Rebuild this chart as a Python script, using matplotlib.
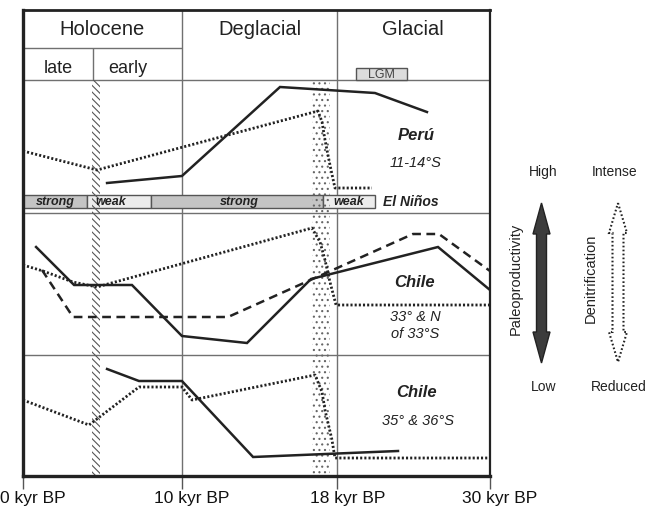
import matplotlib
matplotlib.use('Agg')
import matplotlib.pyplot as plt
import matplotlib.patches as mpatches
import matplotlib.transforms as mtransforms

plt.rcParams['font.family'] = ['Liberation Sans', 'DejaVu Sans']
plt.rcParams['hatch.linewidth'] = 0.8

# schematic time axis: each section has the same width
bounds = [0, 10.2, 20.2, 30]
tick_labels = ['0 kyr BP', '10 kyr BP', '18 kyr BP', '30 kyr BP']
periods = ['Holocene', 'Deglacial', 'Glacial']
period_x = [5.08, 15.19, 25.05]
sub_periods = ['late', 'early']
sub_x = [2.28, 6.74]

# El Nino activity bar
nino_x0 = [0, 4.11, 8.22, 19.27]
nino_x1 = [4.11, 8.22, 19.27, 22.6]
nino_kind = ['strong', 'weak', 'strong', 'weak']
nino_text_x = [2.05, 5.65, 13.9, 20.9]

# Peru 11-14S
peru_solid_x = [5.40, 10.21, 16.51, 22.61, 25.95]
peru_solid_y = [293, 300, 389, 383, 364]
peru_dot_x = [0, 4.75, 18.95, 19.21, 19.40, 19.72, 20.04, 22.42]
peru_dot_y = [325, 306, 365, 354, 336, 311, 288, 288]

# Chile 33S and north of 33S
chn_solid_x = [0.84, 3.28, 7.00, 10.21, 14.39, 18.50, 26.66, 30.0]
chn_solid_y = [229, 191, 191, 140, 133, 197, 229, 186]
chn_dash_x = [1.22, 3.21, 13.17, 25.05, 26.72, 30.0]
chn_dash_y = [206, 159, 159, 242, 242, 205]
chn_dot_x = [0, 1.28, 3.21, 4.75, 18.56, 19.08, 19.40, 19.72, 20.11, 30]
chn_dot_y = [211, 205, 194, 189, 248, 234, 216, 194, 171, 171]

# Chile 35 & 36S
chs_solid_x = [5.40, 7.45, 10.21, 14.78, 24.09]
chs_solid_y = [107, 95, 95, 19, 25]
chs_dot_x = [0, 4.24, 7.45, 10.21, 10.86, 18.76, 19.21, 19.40, 19.85, 20.04, 30]
chs_dot_y = [76, 51, 89, 89, 76, 101, 84, 66, 36, 18, 18]

dark = '#222222'
grid = '#707070'

fig = plt.figure(figsize=(6.51, 5.13), dpi=100)
ax = fig.add_axes([23 / 651, 37 / 513, 467 / 651, 466 / 513])
ax.set_xlim(0, 30)
ax.set_ylim(0, 466)
for side, w in [('left', 2.4), ('bottom', 2.4), ('top', 2.0), ('right', 1.6)]:
    ax.spines[side].set_linewidth(w)
    ax.spines[side].set_color(dark)
    ax.spines[side].set_zorder(6)

ax.set_yticks([])
ax.set_xticks(bounds)
ax.set_xticklabels(tick_labels, fontsize=12.5, color='#111111')
ax.tick_params(axis='x', length=9, width=1, color='#555555', pad=2)
shift = mtransforms.ScaledTranslation(10 / 100, 0, fig.dpi_scale_trans)
for lbl in ax.get_xticklabels():
    lbl.set_transform(lbl.get_transform() + shift)

# frame lines
ax.vlines(bounds[1:3], 0, 466, color=grid, lw=1, zorder=1)
ax.hlines([396, 263, 121], 0, 30, color=grid, lw=1, zorder=1)
ax.hlines(428, 0, bounds[1], color=grid, lw=1, zorder=1)
ax.vlines(4.5, 396, 428, color=grid, lw=1, zorder=1)

# headers
for name, x in zip(periods, period_x):
    ax.text(x, 441, name, ha='center', va='baseline', fontsize=14.5, color=dark)
for name, x in zip(sub_periods, sub_x):
    ax.text(x, 403, name, ha='center', va='baseline', fontsize=13, color=dark)
ax.add_patch(mpatches.Rectangle((21.37, 396), 3.3, 12, facecolor='#dcdcdc',
                                edgecolor='#555555', lw=1, zorder=2))
ax.text(23.0, 401.5, 'LGM', ha='center', va='center', fontsize=9, color='#444444')

# El Nino bar
for x0, x1, kind, tx in zip(nino_x0, nino_x1, nino_kind, nino_text_x):
    fc = '#c4c4c4' if kind == 'strong' else '#ececec'
    ax.add_patch(mpatches.Rectangle((x0, 268), x1 - x0, 13, facecolor=fc,
                                    edgecolor='#555555', lw=1, zorder=2))
    ax.text(tx, 274.5, kind, ha='center', va='center', fontsize=9,
            fontweight='bold', style='italic', color=dark, zorder=4)
ax.text(23.1, 274.5, 'El Niños', ha='left', va='center', fontsize=10,
        fontweight='bold', style='italic', color=dark)

# boundary bands
ax.add_patch(mpatches.Rectangle((4.43, 0), 0.52, 396, fill=False, lw=0,
                                hatch='\\\\\\\\\\', edgecolor='#555555', zorder=2.5))
ax.add_patch(mpatches.Rectangle((18.56, 0), 1.16, 396, fill=False, lw=0,
                                hatch='...', edgecolor='#666666', zorder=2.5))

# records
solid = dict(color=dark, lw=1.8, zorder=3, solid_joinstyle='miter')
dotted = dict(color='#222222', lw=2.0, dashes=(0.75, 0.75), zorder=3)
dashed = dict(color=dark, lw=1.8, dashes=(3.5, 2.2), zorder=3)

ax.plot(peru_solid_x, peru_solid_y, **solid)
ax.plot(peru_dot_x, peru_dot_y, **dotted)
ax.plot(chn_solid_x, chn_solid_y, **solid)
ax.plot(chn_dash_x, chn_dash_y, **dashed)
ax.plot(chn_dot_x, chn_dot_y, **dotted)
ax.plot(chs_solid_x, chs_solid_y, **solid)
ax.plot(chs_dot_x, chs_dot_y, **dotted)

# site labels
ax.text(25.25, 336, 'Perú', ha='center', va='baseline', fontsize=12,
        fontweight='bold', style='italic', color=dark)
ax.text(25.25, 309, '11-14°S', ha='center', va='baseline', fontsize=10.5,
        style='italic', color=dark)
ax.text(25.18, 189, 'Chile', ha='center', va='baseline', fontsize=12,
        fontweight='bold', style='italic', color=dark)
ax.text(25.18, 155, '33° & N', ha='center', va='baseline', fontsize=10.5,
        style='italic', color=dark)
ax.text(25.18, 138, 'of 33°S', ha='center', va='baseline', fontsize=10.5,
        style='italic', color=dark)
ax.text(25.3, 79, 'Chile', ha='center', va='baseline', fontsize=12,
        fontweight='bold', style='italic', color=dark)
ax.text(25.35, 51, '35° & 36°S', ha='center', va='baseline', fontsize=10.5,
        style='italic', color=dark)

# legend arrows on the right (figure pixel coordinates)
ov = fig.add_axes([0, 0, 1, 1])
ov.set_xlim(0, 651)
ov.set_ylim(513, 0)
ov.axis('off')
ov.patch.set_alpha(0)


def double_arrow(cx, yt, yb, hw, sw, hl):
    return [(cx, yt), (cx + hw, yt + hl), (cx + sw, yt + hl), (cx + sw, yb - hl),
            (cx + hw, yb - hl), (cx, yb), (cx - hw, yb - hl), (cx - sw, yb - hl),
            (cx - sw, yt + hl), (cx - hw, yt + hl)]


ov.add_patch(mpatches.Polygon(double_arrow(541.5, 203, 363, 8.5, 5, 31),
                              closed=True, facecolor='#3c3c3c', edgecolor='#222222', lw=1))
ov.add_patch(mpatches.Polygon(double_arrow(618, 203, 362, 9, 5.5, 30),
                              closed=True, facecolor='white', edgecolor='#222222',
                              lw=1.5, linestyle=(0, (0.8, 1.1))))
ov.text(516, 279, 'Paleoproductivity', rotation=90, ha='center', va='center',
        fontsize=10.5, color=dark)
ov.text(591, 278, 'Denitrification', rotation=90, ha='center', va='center',
        fontsize=10.5, color=dark)
ov.text(543.5, 172, 'High', ha='center', va='center', fontsize=10, color=dark)
ov.text(614.5, 172, 'Intense', ha='center', va='center', fontsize=10, color=dark)
ov.text(544, 387, 'Low', ha='center', va='center', fontsize=10, color=dark)
ov.text(619, 387, 'Reduced', ha='center', va='center', fontsize=10, color=dark)

fig.savefig('out.png', dpi=100)
